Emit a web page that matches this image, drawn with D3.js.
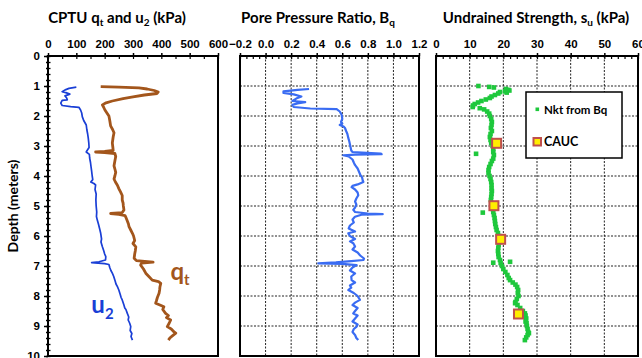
<!DOCTYPE html>
<html><head><meta charset="utf-8">
<script src="https://cdn.jsdelivr.net/npm/d3@7/dist/d3.min.js"></script>
<style>
html,body{margin:0;padding:0;background:#fff;}
svg{display:block;font-family:Lato,"Open Sans",sans-serif;font-weight:bold;}
</style></head><body>
<svg id="c" width="642" height="358"></svg>
<script>
// ---------- data ----------
const depthTicks = [0,1,2,3,4,5,6,7,8,9,10];
const qTicks = [0,100,200,300,400,500,600];
const bqTicks = [-0.2,0,0.2,0.4,0.6,0.8,1.0,1.2];
const suTicks = [0,10,20,30,40,50,60];

// u2 [depth m, kPa]
const u2 = [[1.04,100],[1.08,74],[1.12,63],[1.19,50],[1.22,63],[1.27,77],[1.33,60],[1.4,66],[1.46,68],[1.48,50],[1.57,45],[1.65,50],[1.69,80],[1.71,109],[1.8,115],[1.9,119],[2.02,121],[2.15,126],[2.3,135],[2.45,137],[2.6,140],[2.73,142],[2.9,144],[3.05,145],[3.15,138],[3.2,135],[3.28,146],[3.4,147],[3.55,150],[3.7,152],[3.84,154],[4.0,156],[4.12,158],[4.2,151],[4.25,162],[4.3,168],[4.45,166],[4.6,170],[4.8,169],[5.0,170],[5.2,172],[5.35,171],[5.47,174],[5.6,178],[5.75,182],[5.91,186],[6.1,189],[6.2,187],[6.36,192],[6.5,197],[6.6,200],[6.69,204],[6.8,203],[6.86,180],[6.89,154],[6.92,200],[6.95,215],[7.05,218],[7.15,222],[7.24,227],[7.35,232],[7.5,237],[7.6,240],[7.69,245],[7.8,250],[7.95,255],[8.05,258],[8.13,262],[8.3,268],[8.4,271],[8.45,275],[8.58,280],[8.7,285],[8.8,283],[8.9,288],[9.02,292],[9.15,290],[9.25,296],[9.35,293],[9.47,298]];

// qt [depth m, kPa]
const qt = [[1.02,186],[1.04,250],[1.06,321],[1.1,350],[1.15,375],[1.2,389],[1.25,385],[1.3,340],[1.36,300],[1.42,265],[1.5,227],[1.56,205],[1.63,192],[1.7,196],[1.8,201],[1.9,208],[2.0,215],[2.15,218],[2.33,221],[2.45,228],[2.56,233],[2.7,230],[2.9,227],[3.05,229],[3.15,230],[3.18,200],[3.2,168],[3.22,200],[3.25,236],[3.35,239],[3.5,236],[3.66,233],[3.8,237],[3.88,239],[4.0,236],[4.1,233],[4.2,238],[4.31,245],[4.42,250],[4.53,256],[4.65,262],[4.8,262],[4.9,265],[5.0,266],[5.13,268],[5.22,262],[5.25,221],[5.28,250],[5.32,272],[5.36,274],[5.5,280],[5.6,284],[5.69,286],[5.8,292],[5.91,298],[6.0,302],[6.15,306],[6.25,300],[6.36,310],[6.5,308],[6.6,306],[6.74,304],[6.82,312],[6.87,371],[6.9,330],[6.97,327],[7.1,337],[7.24,345],[7.35,356],[7.47,368],[7.52,390],[7.58,398],[7.7,395],[7.8,394],[7.91,392],[8.05,386],[8.15,383],[8.24,380],[8.3,395],[8.36,409],[8.45,405],[8.58,415],[8.65,425],[8.72,418],[8.8,433],[8.9,428],[9.02,421],[9.1,435],[9.2,445],[9.24,451],[9.32,440],[9.4,430],[9.47,425]];

// Bq [depth m, ratio]
const bq = [[1.1,0.34],[1.13,0.25],[1.18,0.14],[1.23,0.14],[1.28,0.22],[1.35,0.28],[1.42,0.24],[1.5,0.21],[1.54,0.31],[1.58,0.25],[1.63,0.21],[1.7,0.22],[1.75,0.35],[1.77,0.556],[1.85,0.58],[1.96,0.595],[2.1,0.6],[2.2,0.59],[2.25,0.6],[2.3,0.58],[2.35,0.61],[2.4,0.621],[2.5,0.63],[2.6,0.64],[2.73,0.647],[2.85,0.655],[2.95,0.66],[3.07,0.666],[3.15,0.67],[3.2,0.68],[3.25,0.9],[3.27,0.908],[3.29,0.7],[3.31,0.608],[3.35,0.65],[3.45,0.68],[3.55,0.69],[3.63,0.699],[3.75,0.72],[3.85,0.73],[3.95,0.74],[4.05,0.755],[4.15,0.76],[4.2,0.765],[4.28,0.72],[4.33,0.68],[4.37,0.673],[4.45,0.7],[4.55,0.72],[4.64,0.725],[4.75,0.71],[4.85,0.7],[4.95,0.71],[5.05,0.7],[5.13,0.686],[5.2,0.7],[5.25,0.8],[5.27,0.916],[5.29,0.75],[5.36,0.699],[5.45,0.68],[5.55,0.69],[5.65,0.66],[5.75,0.65],[5.85,0.7],[5.91,0.647],[6.0,0.66],[6.1,0.7],[6.18,0.66],[6.24,0.686],[6.35,0.7],[6.45,0.68],[6.55,0.72],[6.65,0.74],[6.75,0.77],[6.8,0.765],[6.84,0.67],[6.88,0.55],[6.91,0.412],[6.93,0.6],[6.97,0.712],[7.05,0.68],[7.15,0.66],[7.25,0.7],[7.35,0.67],[7.47,0.673],[7.55,0.7],[7.65,0.66],[7.72,0.67],[7.8,0.647],[7.9,0.69],[8.0,0.72],[8.13,0.738],[8.22,0.7],[8.3,0.68],[8.4,0.72],[8.5,0.7],[8.58,0.686],[8.65,0.72],[8.75,0.7],[8.85,0.68],[8.95,0.72],[9.02,0.712],[9.1,0.69],[9.2,0.68],[9.3,0.7],[9.4,0.71],[9.47,0.725]];

// su from Nkt(Bq) [depth m, kPa]
const suNkt = [[1.0,12.6],[1.03,15.8],[1.05,17.2],[1.1,20.8],[1.13,21.5],[1.15,21.8],[1.18,20.5],[1.2,19.0],[1.22,21.0],[1.25,18.5],[1.3,17.5],[1.35,16.5],[1.4,16.0],[1.45,14.8],[1.5,13.5],[1.55,12.5],[1.6,11.5],[1.65,11.0],[1.7,10.9],[1.74,13.0],[1.78,14.3],[1.85,15.2],[1.92,15.8],[2.0,16.0],[2.1,16.4],[2.2,16.6],[2.3,16.5],[2.4,16.3],[2.5,16.6],[2.6,16.2],[2.7,16.0],[2.8,16.2],[2.9,16.4],[3.0,16.8],[3.1,17.0],[3.2,17.0],[3.3,17.2],[3.42,17.0],[3.5,16.6],[3.6,16.2],[3.7,15.8],[3.8,15.6],[3.9,15.6],[4.0,15.9],[4.1,16.2],[4.2,16.4],[4.3,16.5],[4.42,16.5],[4.5,16.6],[4.6,16.5],[4.7,16.4],[4.8,16.3],[4.9,16.5],[5.0,16.7],[5.1,16.9],[5.2,17.0],[5.3,17.2],[5.4,17.4],[5.5,17.5],[5.6,17.6],[5.7,17.8],[5.8,18.0],[5.9,18.4],[6.0,18.8],[6.1,19.0],[6.2,18.8],[6.3,18.6],[6.4,18.5],[6.5,18.4],[6.6,18.5],[6.7,18.6],[6.8,19.0],[6.9,19.2],[7.0,19.6],[7.1,20.0],[7.2,20.6],[7.3,21.2],[7.4,21.6],[7.47,22.0],[7.55,22.8],[7.62,23.6],[7.7,24.1],[7.8,24.4],[7.9,24.3],[8.0,24.5],[8.1,24.0],[8.2,23.6],[8.24,23.5],[8.3,24.2],[8.4,25.0],[8.5,25.8],[8.58,26.4],[8.65,26.6],[8.75,26.8],[8.85,26.6],[8.91,26.9],[9.0,27.0],[9.1,27.2],[9.2,27.4],[9.24,27.6],[9.3,27.2],[9.38,26.8],[9.47,26.4],[3.26,11.9],[5.22,13.9],[6.89,17.0],[6.86,22.0]];

// CAUC lab tests [depth m, kPa]
const cauc = [[2.91,18.0],[4.99,17.2],[6.11,19.2],[8.6,24.5]];

// ---------- drawing ----------
const svg = d3.select("#c");
const y = d3.scaleLinear([0,10],[56,356]);
const xQ = d3.scaleLinear([0,600],[48,218]);
const xB = d3.scaleLinear([-0.2,1.2],[240,419]);
const xS = d3.scaleLinear([0,60],[436,638]);

const C = {u2:"#1a3fd6", qt:"#a3561c", bq:"#3a6cf2", green:"#1ec83c", yellow:"#ffee00", red:"#c0504d"};

function frame(x){
  svg.append("rect").attr("x",x.range()[0]).attr("y",y(0))
    .attr("width",x.range()[1]-x.range()[0]).attr("height",y(10)-y(0))
    .attr("fill","none").attr("stroke","#000").attr("stroke-width",2);
}
function grid(x, ticks){
  const g = svg.append("g").attr("stroke","#222").attr("stroke-width",1).attr("stroke-dasharray","2,1.5");
  g.selectAll(".v").data(ticks.slice(1,-1)).join("line")
    .attr("x1",d=>x(d)).attr("x2",d=>x(d)).attr("y1",y(0)).attr("y2",y(10));
  g.selectAll(".h").data(depthTicks.slice(1,-1)).join("line")
    .attr("x1",x.range()[0]).attr("x2",x.range()[1]).attr("y1",d=>y(d)).attr("y2",d=>y(d));
}
function topAxis(x, ticks, fmt, minorStep){
  const g = svg.append("g").attr("transform",`translate(0,${y(0)})`);
  g.call(d3.axisTop(x).tickValues(ticks).tickSize(3).tickPadding(5).tickFormat(fmt));
  g.select(".domain").remove();
  g.selectAll("text").attr("font-size",11.5).attr("font-weight","bold").attr("fill","#000");
  g.selectAll("line").attr("stroke","#000").attr("stroke-width",1.5);
  const gi = svg.append("g").attr("transform",`translate(0,${y(0)})`);
  const d = x.domain();
  const minors = d3.range(d[0], d[1]+minorStep/2, minorStep);
  gi.call(d3.axisTop(x).tickValues(minors).tickSize(-3).tickFormat(""));
  gi.select(".domain").remove();
  gi.selectAll("line").attr("stroke","#000").attr("stroke-width",1.2);
}

// panel 1
frame(xQ);
topAxis(xQ, qTicks, d3.format("d"), 50);
{
  const g = svg.append("g").attr("transform",`translate(${xQ.range()[0]},0)`);
  g.call(d3.axisLeft(y).tickValues(depthTicks).tickSize(4).tickPadding(4).tickFormat(d3.format("d")));
  g.select(".domain").remove();
  g.selectAll("text").attr("font-size",11.5).attr("font-weight","bold").attr("fill","#000");
  g.selectAll("line").attr("stroke","#000").attr("stroke-width",1.5);
  const gm = svg.append("g").attr("transform",`translate(${xQ.range()[0]},0)`);
  gm.call(d3.axisLeft(y).tickValues(d3.range(0,10.01,0.2)).tickSize(-2.5).tickFormat(""));
  gm.select(".domain").remove();
  gm.selectAll("line").attr("stroke","#000").attr("stroke-width",1.3);
  const gm2 = svg.append("g").attr("transform",`translate(${xQ.range()[0]},0)`);
  gm2.call(d3.axisLeft(y).tickValues(d3.range(0,10.01,0.2)).tickSize(2).tickFormat(""));
  gm2.select(".domain").remove();
  gm2.selectAll("line").attr("stroke","#000").attr("stroke-width",1.3);
}
const lineQ = d3.line().x(d=>xQ(d[1])).y(d=>y(d[0]));
svg.append("path").datum(u2).attr("d",lineQ).attr("fill","none").attr("stroke",C.u2).attr("stroke-width",1.7).attr("stroke-linejoin","round");
svg.append("path").datum(qt).attr("d",lineQ).attr("fill","none").attr("stroke",C.qt).attr("stroke-width",2.8).attr("stroke-linejoin","round");

// series labels
{
  const t1 = svg.append("text").attr("x",xQ(432)).attr("y",y(7.47)).attr("fill",C.qt).attr("font-size",24);
  t1.append("tspan").text("q");
  t1.append("tspan").attr("font-size",15).attr("dy",5).text("t");
  const t2 = svg.append("text").attr("x",xQ(153)).attr("y",y(8.55)).attr("fill",C.u2).attr("font-size",24);
  t2.append("tspan").text("u");
  t2.append("tspan").attr("font-size",15).attr("dy",6).text("2");
}

// depth label
svg.append("text").attr("transform",`translate(18,${y(5)}) rotate(-90)`).attr("text-anchor","middle")
  .attr("font-size",14).attr("fill","#000").text("Depth (meters)");

// panel 2
grid(xB, bqTicks);
frame(xB);
topAxis(xB, bqTicks, d3.format(".1f"), 0.05);
svg.append("path").datum(bq).attr("d",d3.line().x(d=>xB(d[1])).y(d=>y(d[0])))
  .attr("fill","none").attr("stroke",C.bq).attr("stroke-width",2.2).attr("stroke-linejoin","round");

// panel 3
grid(xS, suTicks);
frame(xS);
topAxis(xS, suTicks, d3.format("d"), 2);
svg.append("g").selectAll("rect").data(suNkt).join("rect")
  .attr("x",d=>xS(d[1])-2.3).attr("y",d=>y(d[0])-2.3).attr("width",4.6).attr("height",4.6).attr("fill",C.green);
svg.append("g").selectAll("rect").data(cauc).join("rect")
  .attr("x",d=>xS(d[1])-4.5).attr("y",d=>y(d[0])-4.5).attr("width",9).attr("height",9)
  .attr("fill",C.yellow).attr("stroke",C.red).attr("stroke-width",2);

// legend
{
  const g = svg.append("g");
  g.append("rect").attr("x",526).attr("y",92).attr("width",96).attr("height",66)
    .attr("fill","#fff").attr("stroke","#000").attr("stroke-width",1.5);
  g.append("rect").attr("x",535.5).attr("y",107.5).attr("width",3.6).attr("height",3.6).attr("fill",C.green);
  g.append("text").attr("x",544).attr("y",113.5).attr("font-size",11.5).attr("fill","#000").text("Nkt from Bq");
  g.append("rect").attr("x",533.5).attr("y",138).attr("width",7.5).attr("height",7.5)
    .attr("fill",C.yellow).attr("stroke",C.red).attr("stroke-width",2);
  g.append("text").attr("x",544).attr("y",146).attr("font-size",12.5).attr("fill","#000").text("CAUC");
}

// titles
function title(cx, parts){
  const t = svg.append("text").attr("x",cx).attr("y",23).attr("text-anchor","middle").attr("font-size",15).attr("fill","#000");
  parts.forEach(p=>{
    if (p.sub) t.append("tspan").attr("font-size",10).attr("dy",3).text(p.sub);
    else t.append("tspan").attr("dy",p.after?-3:0).text(p.t);
  });
}
title(117, [{t:"CPTU q"},{sub:"t"},{t:" and u",after:true},{sub:"2"},{t:" (kPa)",after:true}]);
title(318, [{t:"Pore Pressure Ratio, B"},{sub:"q"}]);
title(536, [{t:"Undrained Strength, s"},{sub:"u"},{t:" (kPa)",after:true}]);
</script>
</body></html>
